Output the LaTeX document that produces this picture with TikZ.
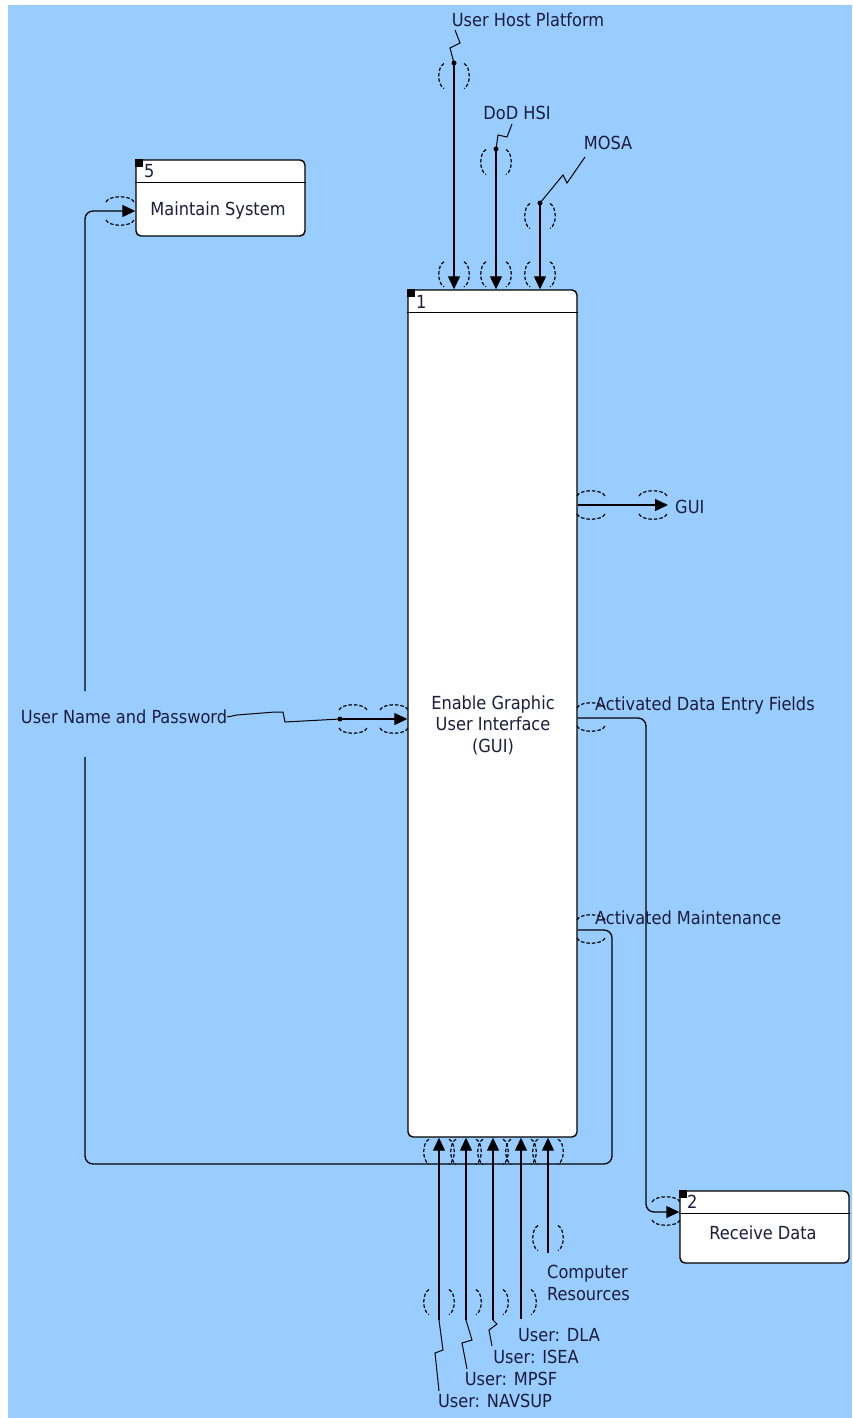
\documentclass[tikz,border=0pt]{standalone}
\usepackage{fontspec}
\setmainfont{DejaVu Sans Condensed}
\usetikzlibrary{arrows.meta,calc}
\definecolor{bg}{HTML}{99CCFF}
\definecolor{txt}{HTML}{1C1C3C}
\tikzset{
  lbl/.style={font=\fontsize{18}{21.5}\selectfont, text=txt, inner sep=0pt},
  box/.style={draw, fill=white, line width=1.4pt, rounded corners=5pt, minimum width=169pt, inner sep=0pt},
  flow/.style={line width=1.3pt, -{Triangle[length=13pt,width=12pt]}},
  wire/.style={line width=1.3pt},
  sq/.style={line width=1pt},
  tun/.style={line width=1.2pt, dash pattern=on 3.5pt off 2pt},
  jdot/.style={circle, fill, inner sep=0pt, minimum size=5pt},
  lpar/.pic={\draw[tun] (-10,-12.5) .. controls (-17,-9) and (-17,9) .. (-10,12.5);},
  rpar/.pic={\draw[tun] (10,-12.5) .. controls (17,-9) and (17,9) .. (10,12.5);},
  vtun/.pic={\draw[tun] (-10,-12.5) .. controls (-17,-9) and (-17,9) .. (-10,12.5);
             \draw[tun] (10,-12.5) .. controls (17,-9) and (17,9) .. (10,12.5);},
  htun/.pic={\draw[tun] (-14,-9) .. controls (-11,-16) and (11,-16) .. (14,-9);
             \draw[tun] (-14,9) .. controls (-11,16) and (11,16) .. (14,9);}
}
\begin{document}
\begin{tikzpicture}[x=1pt,y=-1pt]
\useasboundingbox (0,0) rectangle (852,1418);
\fill[white] (0,0) rectangle (852,1418);
\fill[bg] (8,5) rectangle (852,1418);

% boxes
\node[box, minimum height=847pt] (main) at (492.5,713.5) {};
\node[box, minimum height=76pt] (ms) at (220.5,198) {};
\node[box, minimum height=72pt] (rd) at (764.5,1227) {};
\foreach \b in {main,ms,rd}{
  \draw[line width=1.4pt] ($(\b.north west)+(0,23)$) -- ($(\b.north east)+(0,23)$);
  \fill ($(\b.north west)+(-0.7,-0.7)$) rectangle +(8,8);
}
\node[lbl, anchor=west] (n1) at (416,302) {1};
\node[lbl, anchor=west] (n5) at (144,171) {5};
\node[lbl, anchor=west] (n2) at (687,1202) {2};
\node[lbl, align=center] (mainlbl) at (493,725) {Enable Graphic\\User Interface\\(GUI)};
\node[lbl] (mslbl) at (218,211) {Maintain System};
\node[lbl] (rdlbl) at (763,1233) {Receive Data};

% top controls
\node[lbl] (uhp) at (528,20) {User Host Platform};
\node[lbl] (hsi) at (517,113) {DoD HSI};
\node[lbl] (mosa) at (608,143) {MOSA};
\coordinate (p1) at (454,63);
\coordinate (p2) at (496,149);
\coordinate (p3) at (540,203);
\foreach \p in {p1,p2,p3}{
  \draw[flow] (\p) -- (\p |- main.north);
  \node[jdot] at (\p) {};
  \pic at ($(\p |- main.north)+(0,-15)$) {vtun};
}
\draw[sq] (p1) -- (450,48) -- (460,43) -- (455,30);
\draw[sq] (p2) -- (498,135) -- (507,137) -- (512,124);
\draw[sq] (p3) -- (563,175) -- (567,183) -- (585,157);
\pic at (454,76) {vtun};
\pic at (496,162) {vtun};
\pic at (540,216) {vtun};

% GUI output
\node[lbl, anchor=west] (gui) at (675,507) {GUI};
\coordinate (gE) at (668,505);
\draw[flow] (main.east |- gE) -- (gE);
\pic at (591,505) {htun};
\pic at (653,505) {htun};

% User name and password
\node[lbl] (unp) at (124,717) {User Name and Password};
\coordinate (u1) at (340,719);
\draw[sq] (unp.east) -- (237,715) -- (275,712) -- (283,712) -- (285,722) -- (u1);
\draw[flow] (u1) -- (main.west |- u1);
\node[jdot] at (u1) {};
\pic at (353,719) {htun};
\pic at (394,719) {htun};

% Activated Data Entry Fields
\node[lbl, anchor=west] (adef) at (595,706) {Activated Data Entry Fields};
\coordinate (a0) at (646,718);
\coordinate (a1) at (646,1212);
\draw[flow, rounded corners=8pt] (main.east |- a0) -- (a0) -- (a1) -- (rd.west |- a1);
\pic at (591,717) {htun};
\pic at (666,1211) {htun};

% Activated Maintenance
\node[lbl, anchor=west] (am) at (595,918) {Activated Maintenance};
\coordinate (m0) at (612,930);
\coordinate (m1) at (612,1164);
\coordinate (m2) at (85,1164);
\coordinate (m3) at (85,757);
\coordinate (m4) at (85,691);
\coordinate (m5) at (85,211);
\draw[wire, rounded corners=8pt] (main.east |- m0) -- (m0) -- (m1) -- (m2) -- (m3);
\draw[flow, rounded corners=8pt] (m4) -- (m5) -- (ms.west |- m5);
\pic at (591,929) {htun};
\pic at (120,211) {htun};

% bottom mechanisms
\node[lbl] (navsup) at (495,1401) {User: NAVSUP};
\node[lbl] (mpsf) at (511,1379) {User: MPSF};
\node[lbl] (isea) at (536,1357) {User: ISEA};
\node[lbl] (dla) at (559,1335) {User: DLA};
\node[lbl, align=left, anchor=west] (cr) at (547,1283) {Computer\\Resources};
\coordinate (b1) at (439,1320);
\coordinate (b2) at (466,1320);
\coordinate (b3) at (493,1320);
\coordinate (b4) at (521,1319);
\coordinate (b5) at (548,1253);
\foreach \b in {b1,b2,b3,b4,b5}{
  \draw[flow] (\b) -- (\b |- main.south);
  \pic at ($(\b |- main.south)+(0,14)$) {vtun};
}
\draw[sq] (b1) -- (443,1350) -- (435,1353) -- (439,1391);
\draw[sq] (b2) -- (472,1340) -- (462,1343) -- (467,1369);
\draw[sq] (b3) -- (497,1324) -- (489,1330) -- (492,1346);
\pic at (439,1302) {vtun};
\pic at (466,1302) {rpar};
\pic at (493,1302) {rpar};
\pic at (521,1302) {rpar};
\pic at (548,1238) {vtun};
\end{tikzpicture}
\end{document}
